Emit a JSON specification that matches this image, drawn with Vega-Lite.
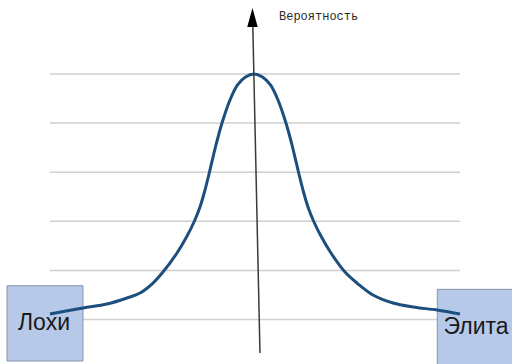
{
  "$schema": "https://vega.github.io/schema/vega-lite/v6.json",
  "width": 512,
  "height": 364,
  "padding": 0,
  "autosize": {"type": "none"},
  "background": "white",
  "config": {"view": {"stroke": null}},
  "datasets": {
    "grid": [{"level": 0}, {"level": 1}, {"level": 2}, {"level": 3}, {"level": 4}, {"level": 5}],
    "curve": [
      {"x": -4.976, "p": 0.112},
      {"x": -4.171, "p": 0.234},
      {"x": -3.585, "p": 0.316},
      {"x": -3.098, "p": 0.438},
      {"x": -2.780, "p": 0.540},
      {"x": -2.463, "p": 0.743},
      {"x": -2.220, "p": 0.967},
      {"x": -1.878, "p": 1.354},
      {"x": -1.646, "p": 1.680},
      {"x": -1.463, "p": 1.986},
      {"x": -1.317, "p": 2.291},
      {"x": -1.195, "p": 2.637},
      {"x": -1.085, "p": 3.004},
      {"x": -0.927, "p": 3.554},
      {"x": -0.780, "p": 4.002},
      {"x": -0.585, "p": 4.470},
      {"x": -0.402, "p": 4.776},
      {"x": -0.207, "p": 4.939},
      {"x": 0.000, "p": 5.000},
      {"x": 0.207, "p": 4.939},
      {"x": 0.402, "p": 4.776},
      {"x": 0.585, "p": 4.470},
      {"x": 0.780, "p": 4.002},
      {"x": 0.927, "p": 3.554},
      {"x": 1.085, "p": 3.004},
      {"x": 1.195, "p": 2.637},
      {"x": 1.317, "p": 2.291},
      {"x": 1.463, "p": 1.986},
      {"x": 1.646, "p": 1.680},
      {"x": 1.878, "p": 1.354},
      {"x": 2.220, "p": 0.967},
      {"x": 2.512, "p": 0.743},
      {"x": 2.902, "p": 0.499},
      {"x": 3.390, "p": 0.336},
      {"x": 3.878, "p": 0.255},
      {"x": 4.463, "p": 0.193},
      {"x": 5.024, "p": 0.112}
    ],
    "boxes": [
      {"label": "Лохи", "left": -6.024, "right": -4.171, "top": 0.688, "bottom": -0.845, "tx": -5.122, "ty": -0.08},
      {"label": "Элита", "left": 4.471, "right": 6.4, "top": 0.615, "bottom": -1.0, "tx": 5.415, "ty": -0.16}
    ]
  },
  "layer": [
    {
      "data": {"name": "grid"},
      "mark": {"type": "rule", "color": "#cfcfcf", "strokeWidth": 1.5},
      "encoding": {
        "x": {"datum": -4.976, "type": "quantitative", "scale": {"domain": [-6.195, 6.293], "nice": false, "zero": false}, "axis": null},
        "x2": {"datum": 5.024},
        "y": {"field": "level", "type": "quantitative", "scale": {"domain": [-0.906, 6.507], "nice": false, "zero": false}, "axis": null}
      }
    },
    {
      "data": {"name": "boxes"},
      "mark": {"type": "rect", "fill": "#b7c9e8", "stroke": "#8494ab", "strokeWidth": 1},
      "encoding": {
        "x": {"field": "left", "type": "quantitative"},
        "x2": {"field": "right"},
        "y": {"field": "top", "type": "quantitative"},
        "y2": {"field": "bottom"}
      }
    },
    {
      "data": {"name": "curve"},
      "mark": {"type": "line", "color": "#1d4f7e", "strokeWidth": 3, "interpolate": "catmull-rom"},
      "encoding": {
        "x": {"field": "x", "type": "quantitative"},
        "y": {"field": "p", "type": "quantitative"}
      }
    },
    {
      "data": {"values": [{}]},
      "mark": {"type": "rule", "color": "#3a3a3a", "strokeWidth": 1.5},
      "encoding": {
        "x": {"datum": -0.032, "type": "quantitative"},
        "y": {"datum": 6.1, "type": "quantitative"},
        "x2": {"datum": 0.146},
        "y2": {"datum": -0.682}
      }
    },
    {
      "data": {"values": [{}]},
      "mark": {"type": "point", "shape": "M0,-1L0.55,1L-0.55,1Z", "size": 361, "filled": true, "color": "#000000", "opacity": 1},
      "encoding": {
        "x": {"datum": -0.037, "type": "quantitative"},
        "y": {"datum": 6.151, "type": "quantitative"}
      }
    },
    {
      "data": {"values": [{"text": "Вероятность"}]},
      "mark": {"type": "text", "font": "Liberation Mono", "fontSize": 12, "align": "left", "baseline": "middle", "color": "#2a2a2a"},
      "encoding": {
        "x": {"datum": 0.61, "type": "quantitative"},
        "y": {"datum": 6.181, "type": "quantitative"},
        "text": {"field": "text"}
      }
    },
    {
      "data": {"name": "boxes"},
      "mark": {"type": "text", "font": "Liberation Sans", "fontSize": 23, "align": "center", "baseline": "middle", "color": "#1a1a1a"},
      "encoding": {
        "x": {"field": "tx", "type": "quantitative"},
        "y": {"field": "ty", "type": "quantitative"},
        "text": {"field": "label"}
      }
    }
  ]
}
